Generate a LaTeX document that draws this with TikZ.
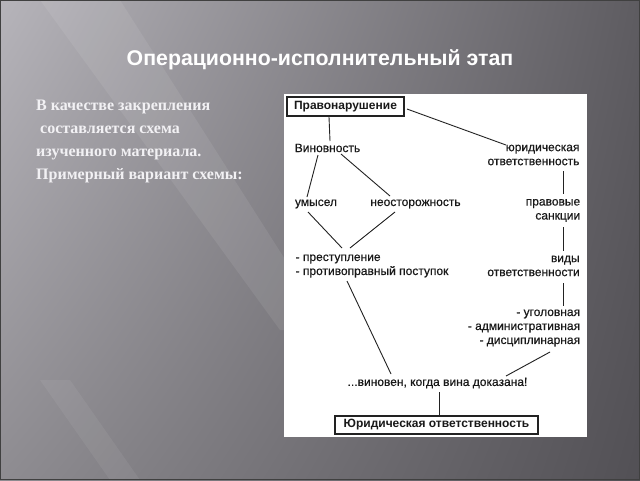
\documentclass[tikz,border=0pt]{standalone}
\usepackage{fontspec}
\setmainfont{Liberation Serif}
\newfontfamily\diafont[FakeBold=0.5]{Liberation Sans}
\newfontfamily\diabold{Liberation Sans Bold}
\usetikzlibrary{calc,fadings,shadings}
\definecolor{bgUL}{HTML}{B6B4BA}
\definecolor{bgUR}{HTML}{5E5C61}
\definecolor{bgLL}{HTML}{8E8C91}
\definecolor{bgLR}{HTML}{525055}
\definecolor{lefttext}{HTML}{F2F1F4}
\definecolor{linecol}{HTML}{222222}
\tikzset{
  dtext/.style={font=\diafont\fontsize{12}{14}\selectfont, text=black!90, inner sep=1pt},
  dbox/.style={dtext, font=\diabold\fontsize{12}{14}\selectfont, draw=linecol, line width=1.2pt, inner sep=0pt},
  conn/.style={draw=linecol, line width=0.9pt},
}
\begin{document}
\begin{tikzpicture}[x=1pt,y=-1pt]
\useasboundingbox (0,0) rectangle (640,480);
% background
\shade[upper left=bgUL, upper right=bgUR, lower left=bgLL, lower right=bgLR] (0,0) rectangle (640,480);
\fill[white, opacity=0.08] (40,0) -- (120,0) -- (330,330) -- (280,330) -- cycle;
\fill[white, opacity=0.06] (40,380) -- (70,380) -- (140,480) -- (110,480) -- cycle;
\draw[black!75, line width=1.2pt] (0.6,0.6) rectangle (639.4,479.4);
% title
\node[font=\diabold\fontsize{21.3}{24}\selectfont, text=white] (title) at (320,60) {Операционно-исполнительный этап};
% left text
\node[font=\bfseries\fontsize{16}{23}\selectfont, text=lefttext, align=left, anchor=north west, inner sep=0pt] (lt) at (36,100)
  {В качестве закрепления\\\ составляется схема\\изученного материала.\\Примерный вариант схемы:};
% panel
\fill[white] (284,94) rectangle (587,437);
% nodes
\node[dbox, minimum width=117pt, minimum height=19pt] (pn) at (345.5,106.5) {Правонарушение};
\node[dtext] (vin) at (327.5,148) {Виновность};
\node[dtext, align=right] (yur) at (533.5,155) {юридическая\\ответственность};
\node[dtext] (um) at (316,204) {умысел};
\node[dtext] (neo) at (415.5,204) {неосторожность};
\node[dtext, align=right] (prav) at (553,210.5) {правовые\\санкции};
\node[dtext, align=left] (prest) at (372,266) {- преступление\\- противоправный поступок};
\node[dtext, align=right] (vid) at (533.5,266) {виды\\ответственности};
\node[dtext, align=right] (ugol) at (524,328) {- уголовная\\- административная\\- дисциплинарная};
\node[dtext] (vinov) at (437.5,383) {...виновен, когда вина доказана!};
\node[dbox, minimum width=203pt, minimum height=18pt] (yo) at (436.5,425) {Юридическая ответственность};
% connectors
\draw[conn] ([shift={(-16.5,10.5)}]pn.center) -- ([shift={(2.5,-7)}]vin.center);
\draw[conn] ([shift={(61.5,2.5)}]pn.center) -- ([shift={(-27.5,-10)}]yur.center);
\draw[conn] ([shift={(-9.5,7)}]vin.center) -- ([shift={(-9,-7)}]um.center);
\draw[conn] ([shift={(13.5,6)}]vin.center) -- ([shift={(-25.5,-8)}]neo.center);
\draw[conn] ([shift={(29.5,16)}]yur.center) -- ([shift={(10,-16.5)}]prav.center);
\draw[conn] ([shift={(-8,8)}]um.center) -- ([shift={(-30,-18)}]prest.center);
\draw[conn] ([shift={(-20.5,8)}]neo.center) -- ([shift={(-22,-18)}]prest.center);
\draw[conn] ([shift={(10,16.5)}]prav.center) -- ([shift={(29.5,-15)}]vid.center);
\draw[conn] ([shift={(-25,15)}]prest.center) -- ([shift={(-46.5,-9)}]vinov.center);
\draw[conn] ([shift={(29.5,17)}]vid.center) -- ([shift={(39,-22)}]ugol.center);
\draw[conn] ([shift={(26,24)}]ugol.center) -- ([shift={(68.5,-7)}]vinov.center);
\draw[conn] ([shift={(1.5,9)}]vinov.center) -- ([shift={(2.5,-9)}]yo.center);
\end{tikzpicture}
\end{document}
